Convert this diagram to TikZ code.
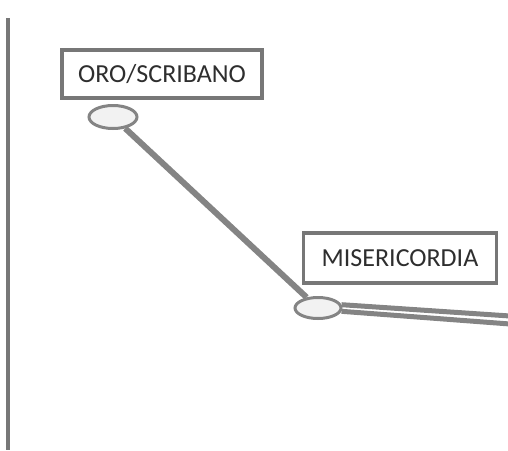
\documentclass[tikz,border=0pt]{standalone}
\usepackage{fontspec}
\setmainfont{Carlito}
\usetikzlibrary{shapes.geometric}

\definecolor{linkgray}{HTML}{848484}
\definecolor{boxgray}{HTML}{777777}
\definecolor{textgray}{HTML}{2E2E2E}

\begin{document}
\begin{tikzpicture}[x=1pt,y=-1pt,
  labelbox/.style={draw=boxgray,line width=3.5pt,fill=white,text=textgray,
    minimum width=200pt,minimum height=48pt,inner sep=0pt,
    font=\fontsize{26}{30}\selectfont},
  joint/.style={ellipse,draw=linkgray,line width=3pt,fill=gray!10,
    minimum width=48pt,minimum height=23pt,inner sep=0pt},
  link/.style={draw=linkgray,line width=6pt}]
  \useasboundingbox (0,0) rectangle (508,450);
  % left axis
  \draw[boxgray,line width=3.5pt] (8,18) -- (8,450);
  % labels
  \node[labelbox] (oro) at (162,74) {ORO/SCRIBANO};
  \node[labelbox,minimum width=193pt,minimum height=50pt] (miser) at (400,258) {MISERICORDIA};
  % joints and links
  \node[joint] (oroj) at (113,117) {};
  \node[joint,minimum width=46pt,minimum height=21pt] (miserj) at (318,308) {};
  \coordinate (endA) at (510,316);
  \coordinate (endB) at (510,324);
  \draw[link] (oroj) -- (miserj);
  \draw[link,line width=5pt] (miserj.8) -- (endA);
  \draw[link,line width=5pt] (miserj.-8) -- (endB);
\end{tikzpicture}
\end{document}
